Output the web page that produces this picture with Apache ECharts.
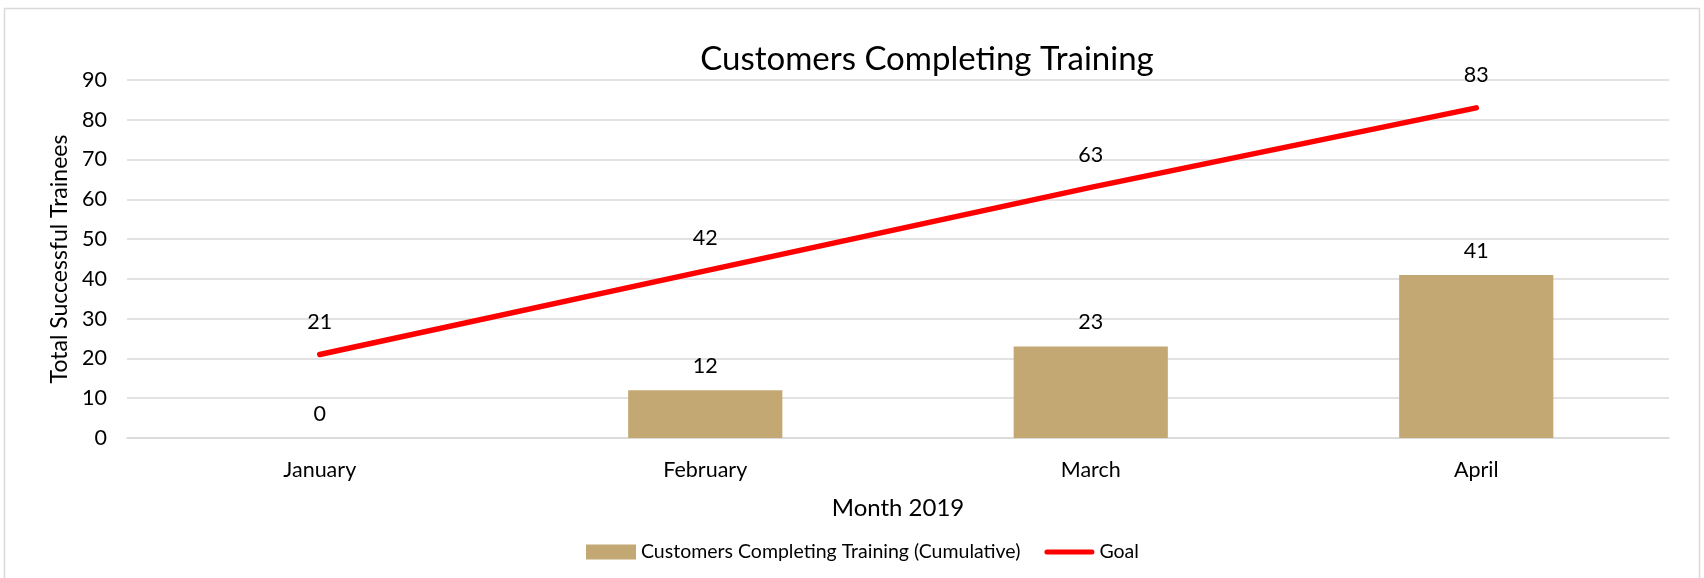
<!DOCTYPE html>
<html>
<head>
<meta charset="utf-8">
<script src="https://cdn.jsdelivr.net/npm/echarts@6/dist/echarts.min.js"></script>
<style>
  html, body { margin: 0; padding: 0; background: #fff; }
  #chart { width: 1704px; height: 578px; }
</style>
</head>
<body>
<div id="chart"></div>
<script>
// Monthly training progress for 2019
const months = ['January', 'February', 'March', 'April'];
const completed = [0, 12, 23, 41];
const goal = [21, 42, 63, 83];
const yTicks = { min: 0, max: 90, interval: 10 };

const FONT = 'Lato';
const chart = echarts.init(document.getElementById('chart'));

chart.setOption({
  backgroundColor: '#ffffff',
  animation: false,
  textStyle: { fontFamily: FONT, color: '#000' },
  title: {
    text: 'Customers Completing Training',
    left: 922,
    textAlign: 'center',
    top: 38,
    textStyle: { fontFamily: FONT, fontSize: 33, fontWeight: 'normal', color: '#000' }
  },
  graphic: [{
    type: 'rect',
    shape: { x: 4.5, y: 8.5, width: 1695, height: 575 },
    style: { fill: 'none', stroke: '#d9d9d9', lineWidth: 1.5 },
    silent: true
  }],
  legend: {
    bottom: 11,
    left: 581,
    itemWidth: 50,
    itemHeight: 15,
    itemGap: 24,
    textStyle: { fontFamily: FONT, fontSize: 19.5, color: '#000' },
    data: [
      { name: 'Customers Completing Training (Cumulative)', icon: 'rect' },
      { name: 'Goal', icon: 'path://M3,0 L57,0 A3,3 0 0 1 57,6 L3,6 A3,3 0 0 1 3,0 Z', itemStyle: { color: '#ff0000' } }
    ]
  },
  grid: { left: 127, right: 35, top: 80, bottom: 140, containLabel: false },
  xAxis: {
    type: 'category',
    data: months,
    name: 'Month 2019',
    nameLocation: 'middle',
    nameGap: 58,
    nameTextStyle: { fontFamily: FONT, fontSize: 24, color: '#000' },
    axisLine: { lineStyle: { color: '#d9d9d9', width: 1.5 } },
    axisTick: { show: false },
    axisLabel: { fontFamily: FONT, fontSize: 21.5, color: '#000', margin: 21 }
  },
  yAxis: {
    type: 'value',
    min: yTicks.min,
    max: yTicks.max,
    interval: yTicks.interval,
    name: 'Total Successful Trainees',
    nameLocation: 'middle',
    nameGap: 49,
    nameTextStyle: { fontFamily: FONT, fontSize: 23, color: '#000' },
    axisLine: { show: false },
    axisTick: { show: false },
    axisLabel: { fontFamily: FONT, fontSize: 21.5, color: '#000', margin: 20 },
    splitLine: { lineStyle: { color: '#d9d9d9', width: 1.5 } }
  },
  series: [
    {
      name: 'Customers Completing Training (Cumulative)',
      type: 'bar',
      data: completed,
      barWidth: '40%',
      itemStyle: { color: '#C4A873' },
      label: {
        show: true,
        position: 'top',
        distance: 13,
        fontFamily: FONT,
        fontSize: 21.5,
        color: '#000'
      }
    },
    {
      name: 'Goal',
      type: 'line',
      data: goal,
      symbol: 'circle',
      symbolSize: 1,
      lineStyle: { color: '#ff0000', width: 5.5, cap: 'round' },
      itemStyle: { color: 'rgba(255,0,0,0)' },
      label: {
        show: true,
        position: 'top',
        distance: 21,
        fontFamily: FONT,
        fontSize: 21.5,
        color: '#000'
      }
    }
  ]
});
</script>
</body>
</html>
